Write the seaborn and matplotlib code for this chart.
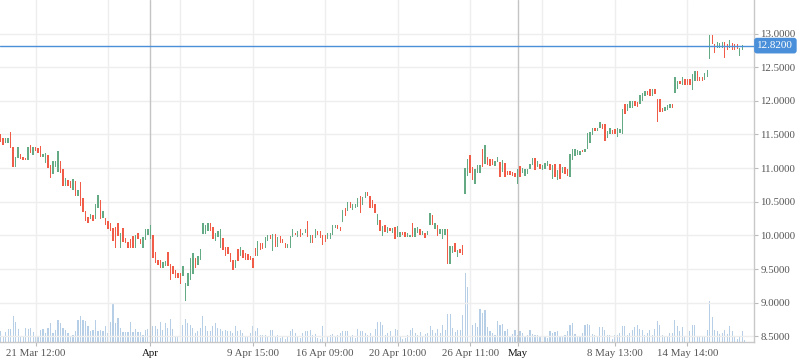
import numpy as np
import pandas as pd
import matplotlib
matplotlib.use("Agg")
import matplotlib.pyplot as plt
import matplotlib.transforms as mtransforms
import seaborn as sns

# ---------------- data ----------------
opens = [
    11.51, 11.44, 11.37, 11.38, 11.53, 11.31, 11.01, 11.15, 11.21, 11.16,
    11.15, 11.12, 11.34, 11.20, 11.31, 11.30, 11.33, 11.16, 11.07, 11.20,
    11.05, 10.91, 11.01, 10.94, 11.10, 10.98, 10.74, 10.82, 10.81, 10.68,
    10.81, 10.58, 10.80, 10.55, 10.37, 10.27, 10.24, 10.30, 10.24, 10.41,
    10.53, 10.26, 10.26, 10.22, 10.18, 10.11, 10.12, 10.18, 9.82, 10.11,
    9.96, 9.90, 9.95, 9.99, 9.82, 10.04, 9.94, 9.82, 9.93, 10.00,
    9.95, 10.01, 9.75, 9.63, 9.63, 9.52, 9.54, 9.76, 9.57, 9.55,
    9.49, 9.44, 9.44, 9.39, 9.03, 9.25, 9.33, 9.42, 9.66, 9.56,
    9.63, 10.02, 10.02, 10.07, 10.18, 10.12, 9.92, 9.98, 9.82, 9.96,
    9.83, 9.83, 9.74, 9.63, 9.51, 9.80, 9.69, 9.78, 9.74, 9.73,
    9.69, 9.66, 9.82, 9.70, 9.89, 9.88, 9.81, 9.91, 10.01, 9.77,
    10.02, 9.83, 9.99, 9.94, 9.89, 9.81, 9.81, 9.97, 10.04, 9.98,
    10.09, 10.01, 10.03, 10.21, 9.88, 10.00, 9.96, 10.07, 10.06, 10.01,
    10.01, 9.94, 9.95, 10.01, 10.11, 10.15, 10.12, 10.20, 10.40, 10.36,
    10.49, 10.38, 10.41, 10.42, 10.59, 10.45, 10.56, 10.64, 10.58, 10.52,
    10.47, 10.15, 10.23, 9.99, 10.16, 10.04, 10.11, 10.03, 10.12, 9.98,
    9.98, 10.05, 10.05, 9.98, 9.97, 10.18, 9.98, 10.04, 10.10, 10.01,
    10.04, 10.00, 10.16, 10.31, 10.10, 10.16, 10.02, 9.95, 10.00, 10.09,
    9.58, 9.74, 9.88, 9.68, 9.80, 9.86, 10.61, 10.88, 11.19, 11.01,
    10.77, 10.92, 10.92, 11.29, 11.06, 11.17, 11.13, 11.13, 11.03, 11.09,
    11.09, 10.94, 11.07, 10.96, 10.95, 10.94, 10.93, 10.76, 11.03, 10.93,
    10.88, 10.91, 10.98, 11.05, 11.15, 11.02, 11.06, 10.97, 10.99, 11.03,
    11.06, 10.84, 11.06, 10.82, 11.06, 10.93, 11.01, 10.98, 10.87, 11.12,
    11.18, 11.19, 11.19, 11.27, 11.24, 11.29, 11.38, 11.49, 11.59, 11.55,
    11.60, 11.65, 11.65, 11.44, 11.50, 11.57, 11.58, 11.46, 11.52, 11.50,
    11.95, 11.85, 11.89, 11.90, 11.99, 11.98, 11.95, 12.00, 12.07, 12.15,
    12.17, 12.07, 12.17, 12.03, 12.03, 11.89, 11.85, 11.86, 11.89, 11.95,
    12.11, 12.17, 12.30, 12.23, 12.32, 12.32, 12.33, 12.16, 12.29, 12.44,
    12.36, 12.36, 12.31, 12.36, 12.62, 12.98, 12.85, 12.79, 12.79, 12.78,
    12.88, 12.84, 12.79, 12.86, 12.84, 12.84, 12.67, 12.76, 12.80,
]
closes = [
    11.39, 11.35, 11.45, 11.45, 11.30, 11.01, 11.17, 11.32, 11.14, 11.12,
    11.12, 11.32, 11.23, 11.32, 11.26, 11.23, 11.16, 11.21, 11.23, 11.00,
    10.86, 11.11, 11.11, 11.26, 10.92, 10.73, 10.85, 10.74, 10.70, 10.84,
    10.58, 10.68, 10.43, 10.35, 10.22, 10.19, 10.32, 10.22, 10.46, 10.60,
    10.25, 10.36, 10.16, 10.09, 10.07, 9.91, 9.81, 9.99, 10.03, 9.90,
    9.88, 9.81, 9.81, 9.82, 10.00, 9.95, 9.87, 9.98, 10.09, 10.09,
    10.15, 9.67, 9.59, 9.56, 9.52, 9.60, 9.62, 9.54, 9.34, 9.43,
    9.37, 9.36, 9.28, 9.54, 9.30, 9.44, 9.66, 9.74, 9.51, 9.69,
    9.80, 10.19, 10.15, 10.18, 10.06, 9.94, 10.04, 10.06, 10.09, 9.78,
    9.70, 9.72, 9.61, 9.49, 9.63, 9.62, 9.83, 9.67, 9.64, 9.64,
    9.63, 9.51, 9.70, 9.92, 9.78, 9.80, 9.97, 10.00, 9.94, 10.02,
    9.83, 9.97, 9.89, 9.88, 9.81, 9.87, 9.99, 10.09, 10.00, 10.07,
    9.98, 10.04, 10.10, 9.97, 10.00, 9.88, 10.09, 10.01, 9.96, 9.86,
    9.90, 10.03, 10.03, 10.15, 10.16, 10.10, 10.06, 10.38, 10.29, 10.49,
    10.41, 10.47, 10.47, 10.55, 10.33, 10.57, 10.65, 10.58, 10.41, 10.40,
    10.33, 10.32, 10.06, 10.14, 10.05, 10.12, 10.06, 10.11, 9.95, 10.14,
    10.05, 10.00, 9.98, 10.03, 10.01, 9.98, 10.11, 10.12, 10.00, 10.06,
    9.96, 10.06, 10.34, 10.15, 10.19, 9.99, 10.10, 10.10, 10.10, 9.57,
    9.84, 9.84, 9.76, 9.79, 9.74, 9.71, 11.00, 11.13, 10.92, 10.82,
    10.98, 11.04, 11.04, 11.02, 11.35, 11.04, 11.03, 11.04, 11.11, 11.17,
    10.87, 11.12, 10.87, 10.90, 10.90, 10.88, 10.87, 10.98, 10.87, 11.00,
    10.98, 10.99, 11.06, 11.15, 10.97, 11.10, 10.98, 11.04, 11.08, 11.10,
    10.97, 11.05, 10.87, 10.97, 10.84, 11.02, 10.91, 10.89, 11.21, 11.28,
    11.28, 11.27, 11.26, 11.24, 11.28, 11.52, 11.53, 11.59, 11.55, 11.60,
    11.68, 11.58, 11.40, 11.55, 11.60, 11.50, 11.50, 11.60, 11.58, 11.88,
    11.80, 11.95, 11.99, 11.99, 11.93, 11.91, 12.08, 12.11, 12.15, 12.09,
    12.07, 12.17, 12.10, 11.69, 11.83, 11.84, 11.91, 11.94, 11.95, 11.89,
    12.35, 12.30, 12.25, 12.35, 12.24, 12.24, 12.24, 12.40, 12.44, 12.29,
    12.30, 12.30, 12.41, 12.46, 12.98, 12.84, 12.71, 12.88, 12.86, 12.88,
    12.64, 12.75, 12.90, 12.76, 12.75, 12.77, 12.79, 12.83, 12.82,
]
volumes = [
    107, 57, 100, 130, 130, 263, 200, 130, 57, 57,
    140, 130, 140, 100, 57, 57, 123, 130, 90, 140,
    190, 90, 123, 223, 190, 140, 123, 90, 63, 73,
    107, 223, 257, 223, 207, 157, 107, 123, 223, 107,
    123, 107, 157, 90, 197, 383, 190, 240, 140, 100,
    100, 100, 197, 100, 130, 97, 97, 73, 123, 130,
    90, 157, 163, 130, 200, 123, 190, 140, 230, 130,
    63, 63, 123, 173, 230, 190, 173, 140, 90, 107,
    140, 257, 157, 107, 107, 157, 190, 140, 130, 107,
    123, 107, 107, 90, 157, 107, 123, 90, 57, 50,
    90, 163, 107, 140, 73, 73, 73, 57, 123, 117,
    57, 73, 40, 63, 30, 57, 107, 130, 90, 57,
    40, 90, 107, 107, 123, 73, 83, 40, 30, 163,
    57, 57, 67, 83, 57, 73, 90, 107, 107, 107,
    57, 73, 40, 130, 107, 107, 90, 73, 90, 57,
    130, 197, 197, 173, 73, 90, 107, 57, 130, 117,
    63, 30, 40, 73, 123, 140, 90, 73, 97, 50,
    80, 90, 157, 117, 90, 130, 90, 173, 123, 283,
    283, 140, 97, 117, 117, 273, 690, 550, 323, 173,
    190, 150, 333, 290, 323, 147, 107, 90, 73, 213,
    173, 180, 107, 130, 57, 80, 117, 73, 107, 90,
    50, 73, 123, 80, 73, 73, 57, 40, 57, 40,
    107, 90, 97, 107, 63, 57, 73, 107, 173, 190,
    83, 63, 63, 90, 173, 180, 173, 80, 73, 63,
    147, 150, 123, 73, 73, 33, 67, 73, 90, 157,
    163, 73, 90, 123, 150, 167, 133, 123, 73, 90,
    123, 73, 133, 213, 173, 67, 57, 57, 90, 90,
    223, 157, 107, 147, 63, 57, 113, 173, 173, 57,
    63, 63, 57, 123, 407, 247, 123, 113, 83, 90,
    123, 80, 157, 107, 63, 30, 57, 107, 17,
]
tick_pos = [14, 60, 101, 130, 159, 188, 207, 246, 275]
tick_labels = ["21 Mar 12:00", "Apr", "9 Apr 15:00", "16 Apr 09:00",
               "20 Apr 10:00", "26 Apr 11:00", "May", "8 May 13:00", "14 May 14:00"]
grid_pos = [14, 43, 72, 101, 130, 159, 188, 217, 246, 275]
month_pos = [60, 207]
y_ticks = [8.5, 9.0, 9.5, 10.0, 10.5, 11.0, 11.5, 12.0, 12.5, 13.0]
last_price = 12.82

# ---------------- style ----------------
sns.set_theme(style="white")
plt.rcParams["font.family"] = ["Liberation Serif", "DejaVu Serif"]

UP = "#64AA84"
DOWN = "#F05C48"
VOL = "#B7CFE6"
BLUE = "#4A8FD9"

df = pd.DataFrame({"idx": np.arange(len(opens)), "open": opens,
                   "close": closes, "volume": volumes})
df["low"] = df[["open", "close"]].min(axis=1)
df["body"] = (df["close"] - df["open"]).abs().clip(lower=0.02)
df["color"] = np.where(df["close"] >= df["open"], UP, DOWN)

fig = plt.figure(figsize=(7.98, 3.63), dpi=100)
ax = fig.add_axes([0, 21 / 363, 754 / 798, 342 / 363])
axv = ax.twinx()

# volume (seaborn)
sns.barplot(data=df, x="idx", y="volume", native_scale=True, color=VOL,
            saturation=1, width=0.45, linewidth=0, errorbar=None, ax=axv)
axv.set_ylim(0, 3420)
axv.set_yticks([])
axv.set_ylabel("")
axv.set_xlabel("")
for s in axv.spines.values():
    s.set_visible(False)

ax.set_zorder(axv.get_zorder() + 1)
ax.patch.set_visible(False)

# candles
ax.bar(df["idx"], df["body"], bottom=df["low"], width=0.55,
       color=df["color"], linewidth=0, zorder=3)

xlim = (-0.24, 301.7)
ax.set_xlim(*xlim)
axv.set_xlim(*xlim)
ax.set_ylim(8.416, 13.498)

# grid
for p in y_ticks:
    ax.axhline(p, color="#EEEEEE", lw=1, zorder=0)
for p in grid_pos:
    ax.axvline(p, color="#EEEEEE", lw=1, zorder=0)
for p in month_pos:
    ax.axvline(p, color="#C4C4C4", lw=1, zorder=1)

# last price line
ax.axhline(last_price, color=BLUE, lw=1, zorder=4)

# axes / ticks
ax.yaxis.tick_right()
ax.set_yticks(y_ticks)
ax.set_yticklabels([f"{v:.4f}" for v in y_ticks])
ax.tick_params(axis="y", which="major", right=True, length=3, width=0.8,
               color="#BBBBBB", pad=1.5, labelsize=7.8, labelcolor="#555555")
ax.set_xticks(tick_pos)
ax.set_xticklabels(tick_labels)
ax.tick_params(axis="x", which="major", bottom=True, length=3, width=0.8,
               color="#BBBBBB", pad=2, labelsize=7.8, labelcolor="#555555")
for lbl in ax.get_xticklabels():
    if lbl.get_text() in ("Apr", "May"):
        lbl.set_color("#111111")

for name, s in ax.spines.items():
    if name in ("right", "bottom"):
        s.set_visible(True)
        s.set_color("#C8C8C8")
        s.set_linewidth(1)
    else:
        s.set_visible(False)

# price badge
trans = mtransforms.blended_transform_factory(ax.transAxes, ax.transData)
ax.annotate(f"{last_price:.4f}", xy=(1.0, last_price), xycoords=trans,
            xytext=(2.5, 0), textcoords="offset points", ha="left", va="center",
            color="white", fontsize=8.0, annotation_clip=False,
            bbox=dict(boxstyle="round,pad=0.3,rounding_size=0.25", fc=BLUE, ec="none"),
            zorder=10)

fig.savefig("out.png", dpi=100)
